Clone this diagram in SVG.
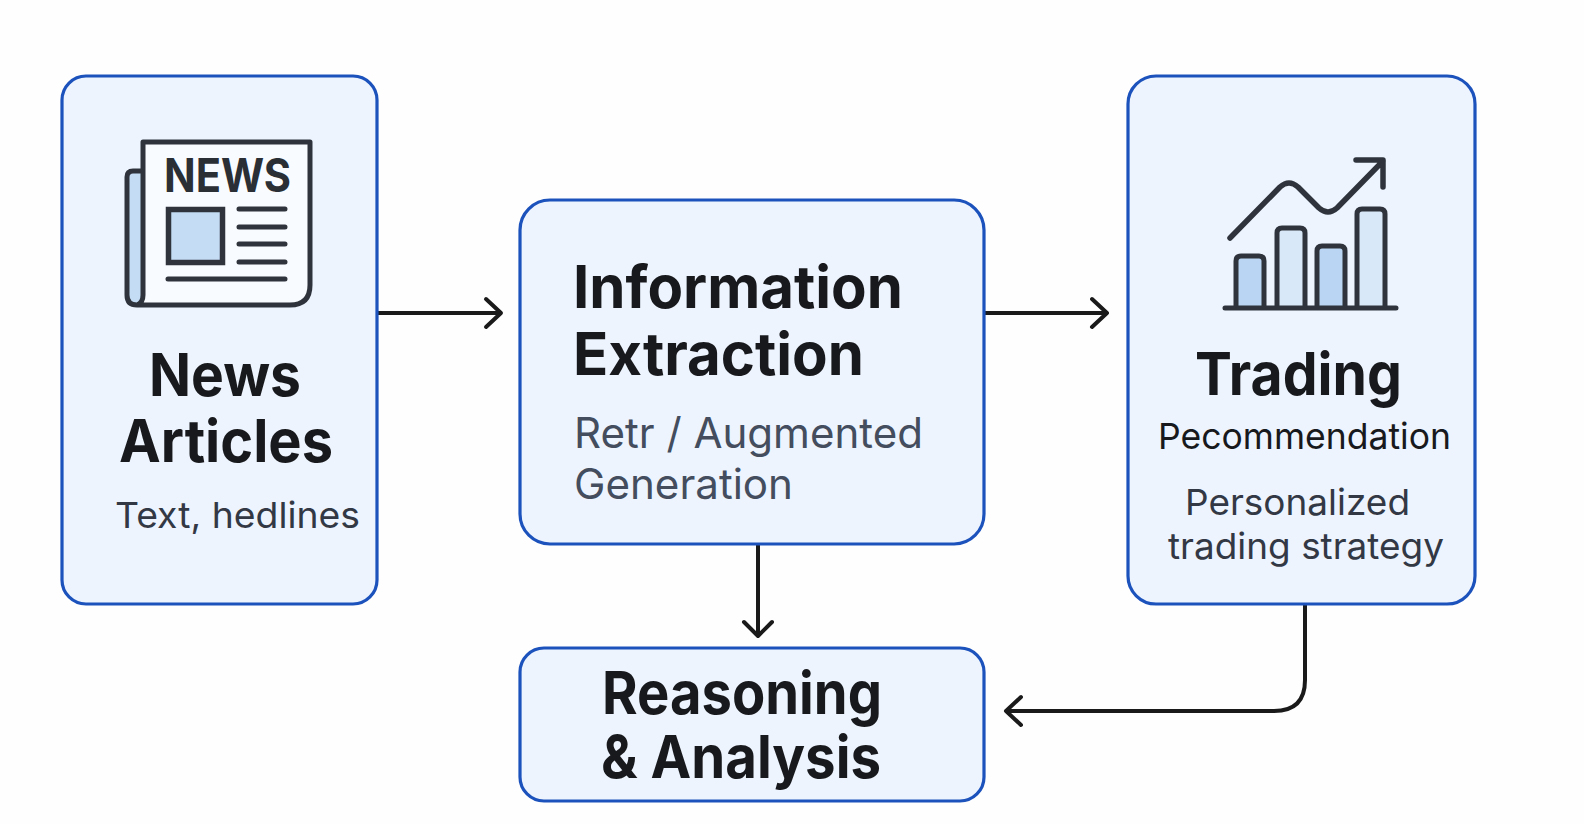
<svg xmlns="http://www.w3.org/2000/svg" width="1584" height="824" viewBox="0 0 1584 824">
<style>
.box{fill:#edf4fe;stroke:#1c52bc;stroke-width:3.2}
.t{font-family:Inter,"Liberation Sans",sans-serif;fill:#18191c}
.h{font-size:59px;font-weight:650}
.s{font-size:42px;fill:#434d5e;font-weight:400}
.m{font-size:36px;font-weight:400;fill:#333845}
.i{fill:none;stroke:#2f343c;stroke-linecap:round;stroke-linejoin:round}
.c{fill:none;stroke:#1a1a1a;stroke-width:4;stroke-linecap:round;stroke-linejoin:round}
</style>
<rect width="1584" height="824" fill="#fefefe"/>
<g id="connectors">
<path class="c" d="M377,313H499M486,299L501,313L486,327"/>
<path class="c" d="M985,313H1105M1092,299L1107,313L1092,327"/>
<path class="c" d="M758,544V634M744,622L758,636L772,622"/>
<path class="c" d="M1305,604V680Q1305,711 1274,711H1006M1021,697L1006,711L1021,725"/>
</g>
<g id="news-articles">
<rect class="box" x="62" y="76" width="315" height="528" rx="24"/>
<path d="M143,171H133Q127,171 127,177V295Q127,305 137,305H143Z" fill="#c5dcf5"/>
<path d="M143,142H310V285Q310,305 290,305H137Q143,303 143,295Z" fill="#f8fbff"/>
<path class="i" stroke-width="5" d="M143,171H133Q127,171 127,177V295Q127,305 137,305H290Q310,305 310,285V142H143V295Q143,303 137,305"/>
<text class="t" x="164" y="192" font-size="46" font-weight="700" style="fill:#2a2e35" textLength="127" lengthAdjust="spacingAndGlyphs">NEWS</text>
<rect x="168.500" y="209.500" width="54" height="53" fill="#c5dcf5" stroke="#2f343c" stroke-width="5.500"/>
<path class="i" stroke-width="5" d="M239,209H285M239,227H285M239,244H285M239,262H285M168,279H285"/>
<text class="t h" x="149" y="396" textLength="152" lengthAdjust="spacingAndGlyphs">News</text>
<text class="t h" x="119" y="462" textLength="214" lengthAdjust="spacingAndGlyphs">Articles</text>
<text class="t m" x="115" y="528" textLength="245" lengthAdjust="spacingAndGlyphs">Text, hedlines</text>
</g>
<g id="information-extraction">
<rect class="box" x="520" y="200" width="464" height="344" rx="30"/>
<text class="t h" x="573" y="308" textLength="330" lengthAdjust="spacingAndGlyphs">Information</text>
<text class="t h" x="573" y="375" textLength="291" lengthAdjust="spacingAndGlyphs">Extraction</text>
<text class="t s" x="574" y="448" textLength="349" lengthAdjust="spacingAndGlyphs">Retr / Augmented</text>
<text class="t s" x="574" y="499" textLength="219" lengthAdjust="spacingAndGlyphs">Generation</text>
</g>
<g id="trading-recommendation">
<rect class="box" x="1128" y="76" width="347" height="528" rx="28"/>
<path d="M1236,256H1264V307H1236Z" fill="#b9d5f3"/>
<path d="M1277,228H1305V307H1277Z" fill="#d9e8f8"/>
<path d="M1317,246H1345V307H1317Z" fill="#b9d5f3"/>
<path d="M1357,209H1385V307H1357Z" fill="#d9e8f8"/>
<path class="i" stroke-width="5" d="M1236,307V261Q1236,256 1241,256H1259Q1264,256 1264,261V307M1277,307V233Q1277,228 1282,228H1300Q1305,228 1305,233V307M1317,307V251Q1317,246 1322,246H1340Q1345,246 1345,251V307M1357,307V214Q1357,209 1362,209H1380Q1385,209 1385,214V307M1225,308H1396"/>
<path class="i" stroke-width="5.500" d="M1230,238L1280,187Q1289,179 1298,187L1319,208Q1328,216 1337,208L1383,161M1356,160H1383V187"/>
<text class="t h" x="1195" y="395" textLength="207" lengthAdjust="spacingAndGlyphs">Trading</text>
<text class="t m" x="1158" y="449" textLength="293" lengthAdjust="spacingAndGlyphs" style="fill:#18191c">Pecommendation</text>
<text class="t m" x="1185" y="515" textLength="225" lengthAdjust="spacingAndGlyphs">Personalized</text>
<text class="t m" x="1168" y="559" textLength="276" lengthAdjust="spacingAndGlyphs">trading strategy</text>
</g>
<g id="reasoning-analysis">
<rect class="box" x="520" y="648" width="464" height="153" rx="24"/>
<text class="t h" x="602" y="714" textLength="280" lengthAdjust="spacingAndGlyphs">Reasoning</text>
<text class="t h" x="601" y="778" textLength="280" lengthAdjust="spacingAndGlyphs">&amp; Analysis</text>
</g>
</svg>
